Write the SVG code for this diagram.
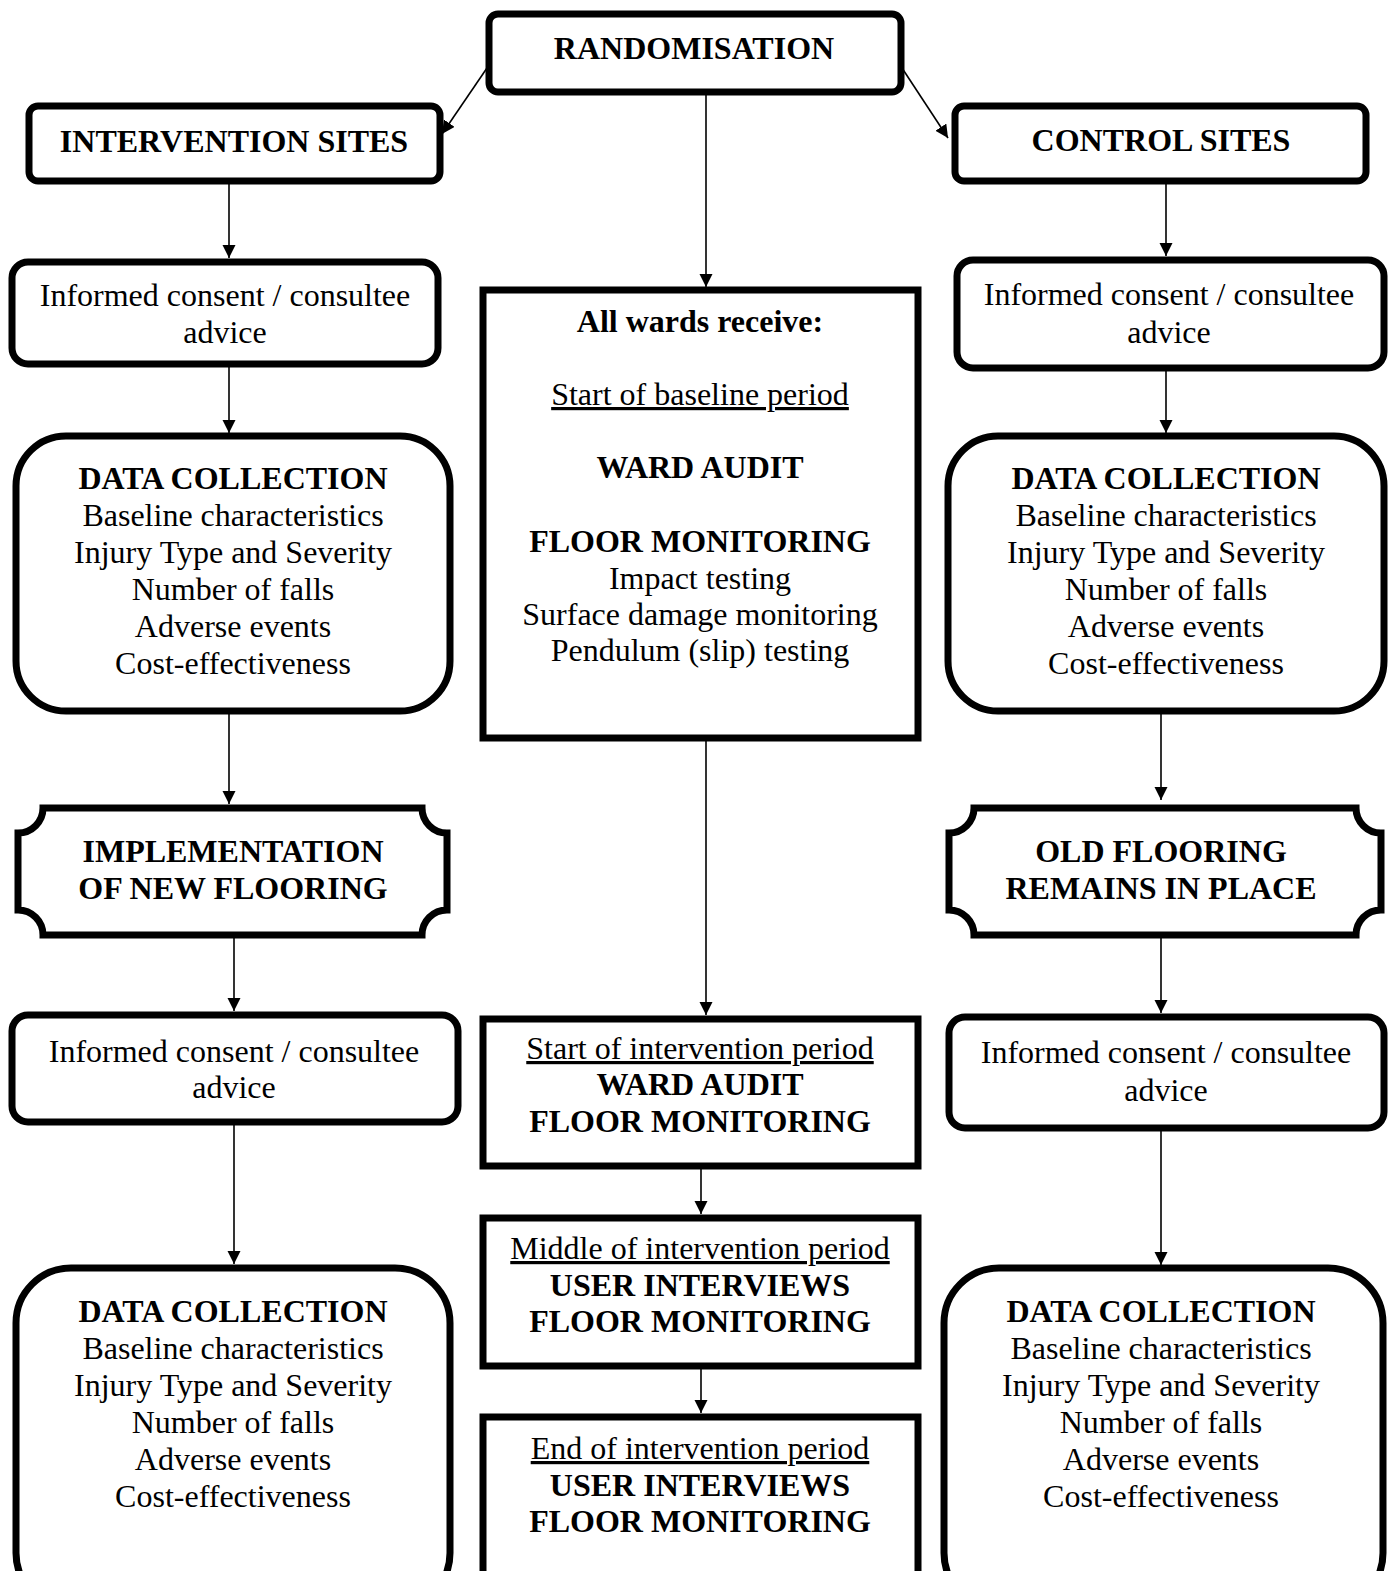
<svg xmlns="http://www.w3.org/2000/svg" width="1396" height="1571" viewBox="0 0 1396 1571">
  <style>
    .box { fill: #fff; stroke: #000; stroke-width: 7; }
    .t { font-family: "Liberation Serif", "Times New Roman", serif; font-size: 32px; text-anchor: middle; fill: #000; }
    .b { font-weight: bold; }
    .u { text-decoration: underline; }
    .edge { stroke: #000; stroke-width: 1.6; fill: none; marker-end: url(#arrow); }
  </style>
  <defs>
    <marker id="arrow" markerUnits="userSpaceOnUse" markerWidth="14" markerHeight="14" refX="13" refY="6.5" orient="auto">
      <path d="M0,0 L13,6.5 L0,13 Z" fill="#000"/>
    </marker>
  </defs>
  <rect width="1396" height="1571" fill="#fff"/>

  <!-- connectors -->
  <g id="connectors">
    <line class="edge" x1="487" y1="68" x2="442" y2="134"/>
    <line class="edge" x1="902" y1="68" x2="948" y2="138"/>
    <line class="edge" x1="706" y1="94" x2="706" y2="287"/>
    <line class="edge" x1="706" y1="740" x2="706" y2="1015"/>
    <line class="edge" x1="701" y1="1168" x2="701" y2="1214"/>
    <line class="edge" x1="701" y1="1368" x2="701" y2="1413"/>
    <line class="edge" x1="229" y1="183" x2="229" y2="258"/>
    <line class="edge" x1="229" y1="366" x2="229" y2="433"/>
    <line class="edge" x1="229" y1="713" x2="229" y2="804"/>
    <line class="edge" x1="234" y1="937" x2="234" y2="1011"/>
    <line class="edge" x1="234" y1="1124" x2="234" y2="1264"/>
    <line class="edge" x1="1166" y1="182" x2="1166" y2="256"/>
    <line class="edge" x1="1166" y1="370" x2="1166" y2="433"/>
    <line class="edge" x1="1161" y1="713" x2="1161" y2="800"/>
    <line class="edge" x1="1161" y1="937" x2="1161" y2="1013"/>
    <line class="edge" x1="1161" y1="1130" x2="1161" y2="1265"/>
  </g>

  <g id="randomisation">
    <rect class="box" x="489" y="14" width="412" height="78" rx="9"/>
    <text class="t b" x="694" y="59">RANDOMISATION</text>
  </g>

  <g id="intervention-sites">
    <rect class="box" x="29" y="106" width="411" height="75" rx="9"/>
    <text class="t b" x="234" y="152">INTERVENTION SITES</text>
  </g>

  <g id="control-sites">
    <rect class="box" x="955" y="106" width="411" height="75" rx="9"/>
    <text class="t b" x="1161" y="151">CONTROL SITES</text>
  </g>

  <g id="consent-int-1">
    <rect class="box" x="12" y="262" width="426" height="102" rx="16"/>
    <text class="t" x="225" y="306">Informed consent / consultee</text>
    <text class="t" x="225" y="343">advice</text>
  </g>

  <g id="consent-ctl-1">
    <rect class="box" x="957" y="260" width="427" height="108" rx="16"/>
    <text class="t" x="1169" y="305">Informed consent / consultee</text>
    <text class="t" x="1169" y="343">advice</text>
  </g>

  <g id="all-wards">
    <rect class="box" x="483" y="290" width="435" height="448"/>
    <text class="t b" x="700" y="332">All wards receive:</text>
    <text class="t u" x="700" y="405">Start of baseline period</text>
    <text class="t b" x="700" y="478">WARD AUDIT</text>
    <text class="t b" x="700" y="552">FLOOR MONITORING</text>
    <text class="t" x="700" y="589">Impact testing</text>
    <text class="t" x="700" y="625">Surface damage monitoring</text>
    <text class="t" x="700" y="661">Pendulum (slip) testing</text>
  </g>

  <g id="data-int-1">
    <rect class="box" x="16" y="436" width="434" height="275" rx="50"/>
    <text class="t b" x="233" y="489">DATA COLLECTION</text>
    <text class="t" x="233" y="526">Baseline characteristics</text>
    <text class="t" x="233" y="563">Injury Type and Severity</text>
    <text class="t" x="233" y="600">Number of falls</text>
    <text class="t" x="233" y="637">Adverse events</text>
    <text class="t" x="233" y="674">Cost-effectiveness</text>
  </g>

  <g id="data-ctl-1">
    <rect class="box" x="948" y="436" width="436" height="275" rx="50"/>
    <text class="t b" x="1166" y="489">DATA COLLECTION</text>
    <text class="t" x="1166" y="526">Baseline characteristics</text>
    <text class="t" x="1166" y="563">Injury Type and Severity</text>
    <text class="t" x="1166" y="600">Number of falls</text>
    <text class="t" x="1166" y="637">Adverse events</text>
    <text class="t" x="1166" y="674">Cost-effectiveness</text>
  </g>

  <g id="implementation">
    <path class="box" d="M43,808 H422 A25,25 0 0 0 447,833 V910 A25,25 0 0 0 422,935 H43 A25,25 0 0 0 18,910 V833 A25,25 0 0 0 43,808 Z"/>
    <text class="t b" x="233" y="862">IMPLEMENTATION</text>
    <text class="t b" x="233" y="899">OF NEW FLOORING</text>
  </g>

  <g id="old-flooring">
    <path class="box" d="M974,808 H1356 A25,25 0 0 0 1381,833 V910 A25,25 0 0 0 1356,935 H974 A25,25 0 0 0 949,910 V833 A25,25 0 0 0 974,808 Z"/>
    <text class="t b" x="1161" y="862">OLD FLOORING</text>
    <text class="t b" x="1161" y="899">REMAINS IN PLACE</text>
  </g>

  <g id="consent-int-2">
    <rect class="box" x="12" y="1015" width="446" height="107" rx="16"/>
    <text class="t" x="234" y="1062">Informed consent / consultee</text>
    <text class="t" x="234" y="1098">advice</text>
  </g>

  <g id="consent-ctl-2">
    <rect class="box" x="949" y="1017" width="435" height="111" rx="16"/>
    <text class="t" x="1166" y="1063">Informed consent / consultee</text>
    <text class="t" x="1166" y="1101">advice</text>
  </g>

  <g id="start-intervention">
    <rect class="box" x="483" y="1019" width="435" height="147"/>
    <text class="t u" x="700" y="1059">Start of intervention period</text>
    <text class="t b" x="700" y="1095">WARD AUDIT</text>
    <text class="t b" x="700" y="1132">FLOOR MONITORING</text>
  </g>

  <g id="middle-intervention">
    <rect class="box" x="483" y="1218" width="435" height="148"/>
    <text class="t u" x="700" y="1259">Middle of intervention period</text>
    <text class="t b" x="700" y="1296">USER INTERVIEWS</text>
    <text class="t b" x="700" y="1332">FLOOR MONITORING</text>
  </g>

  <g id="end-intervention">
    <rect class="box" x="483" y="1417" width="435" height="160"/>
    <text class="t u" x="700" y="1459">End of intervention period</text>
    <text class="t b" x="700" y="1496">USER INTERVIEWS</text>
    <text class="t b" x="700" y="1532">FLOOR MONITORING</text>
  </g>

  <g id="data-int-2">
    <rect class="box" x="16" y="1268" width="434" height="340" rx="55"/>
    <text class="t b" x="233" y="1322">DATA COLLECTION</text>
    <text class="t" x="233" y="1359">Baseline characteristics</text>
    <text class="t" x="233" y="1396">Injury Type and Severity</text>
    <text class="t" x="233" y="1433">Number of falls</text>
    <text class="t" x="233" y="1470">Adverse events</text>
    <text class="t" x="233" y="1507">Cost-effectiveness</text>
  </g>

  <g id="data-ctl-2">
    <rect class="box" x="944" y="1268" width="439" height="340" rx="55"/>
    <text class="t b" x="1161" y="1322">DATA COLLECTION</text>
    <text class="t" x="1161" y="1359">Baseline characteristics</text>
    <text class="t" x="1161" y="1396">Injury Type and Severity</text>
    <text class="t" x="1161" y="1433">Number of falls</text>
    <text class="t" x="1161" y="1470">Adverse events</text>
    <text class="t" x="1161" y="1507">Cost-effectiveness</text>
  </g>
</svg>
